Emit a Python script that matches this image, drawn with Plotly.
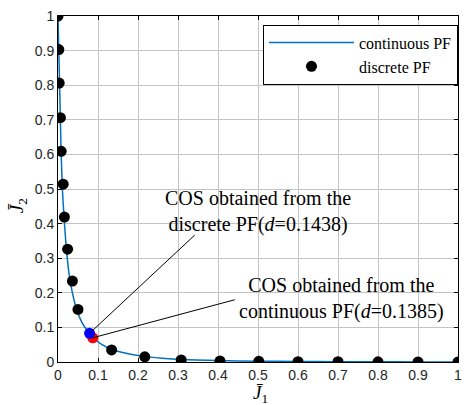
import plotly.graph_objects as go

# continuous Pareto front
cont_j1 = [0, 0.002, 0.004, 0.006, 0.008, 0.011, 0.015, 0.02, 0.027, 0.036, 0.047, 0.06,
           0.075, 0.09, 0.11, 0.135, 0.17, 0.21, 0.26, 0.31, 0.4, 0.5, 0.6, 0.7, 0.8, 0.9, 1.0]
cont_j2 = [1, 0.9, 0.8, 0.7, 0.6, 0.5, 0.42, 0.34, 0.26, 0.2, 0.15, 0.114,
           0.088, 0.068, 0.05, 0.036, 0.025, 0.017, 0.011, 0.007, 0.004, 0.0025, 0.0015, 0.001, 0.0006, 0.0003, 0]

# discrete Pareto front
disc_j1 = [0, 0.002, 0.003, 0.006, 0.008, 0.013, 0.016, 0.024, 0.036, 0.05,
           0.134, 0.217, 0.308, 0.405, 0.502, 0.6, 0.7, 0.8, 0.9, 1.0]
disc_j2 = [1, 0.903, 0.806, 0.706, 0.609, 0.514, 0.419, 0.326, 0.234, 0.152,
           0.035, 0.015, 0.006, 0.003, 0.002, 0.001, 0.001, 0.0005, 0.0003, 0]

# compromise optimal solutions
cos_disc = (0.079, 0.083)
cos_cont = (0.087, 0.070)

# annotation label anchors
lab_disc = (0.5, 0.435)
lab_cont = (0.709, 0.184)
tail_disc = (0.342, 0.367)
tail_cont = (0.442, 0.18)

ticks = [0, 0.1, 0.2, 0.3, 0.4, 0.5, 0.6, 0.7, 0.8, 0.9, 1]
tick_text = ["0", "0.1", "0.2", "0.3", "0.4", "0.5", "0.6", "0.7", "0.8", "0.9", "1"]

fig = go.Figure()
fig.add_trace(go.Scatter(x=cont_j1, y=cont_j2, mode="lines", name="continuous PF",
                         line=dict(color="#0072BD", width=1.5, shape="spline", smoothing=0.6)))
fig.add_trace(go.Scatter(x=disc_j1, y=disc_j2, mode="markers", name="discrete PF",
                         marker=dict(color="black", size=11)))
fig.add_trace(go.Scatter(x=[cos_cont[0]], y=[cos_cont[1]], mode="markers", showlegend=False,
                         marker=dict(color="red", size=11)))
fig.add_trace(go.Scatter(x=[cos_disc[0]], y=[cos_disc[1]], mode="markers", showlegend=False,
                         marker=dict(color="blue", size=11)))

fig.add_shape(type="line", x0=tail_disc[0], y0=tail_disc[1], x1=cos_disc[0], y1=cos_disc[1],
              line=dict(color="black", width=1))
fig.add_shape(type="line", x0=tail_cont[0], y0=tail_cont[1], x1=cos_cont[0], y1=cos_cont[1],
              line=dict(color="black", width=1))

serif = "Liberation Serif, Times New Roman, serif"
fig.add_annotation(x=lab_disc[0], y=lab_disc[1], showarrow=False,
                   text="COS obtained from the<br>discrete PF(<i>d</i>=0.1438)",
                   font=dict(family=serif, size=20, color="black"), align="center")
fig.add_annotation(x=lab_cont[0], y=lab_cont[1], showarrow=False,
                   text="COS obtained from the<br>continuous PF(<i>d</i>=0.1385)",
                   font=dict(family=serif, size=20, color="black"), align="center")

fig.add_annotation(x=0.505, y=-0.092, xref="paper", yref="paper", showarrow=False,
                   text="<i>J\u0304</i><sub>1</sub>", font=dict(family=serif, size=19, color="black"),
                   yanchor="middle")
fig.add_annotation(x=-0.1, y=0.45, xref="paper", yref="paper", showarrow=False, textangle=-90,
                   text="<i>J\u0304</i><sub>2</sub>", font=dict(family=serif, size=19, color="black"),
                   xanchor="center")

axis_common = dict(range=[0, 1], tickvals=ticks, ticktext=tick_text, showgrid=True,
                   gridcolor="#c4c4c4", gridwidth=1, zeroline=False, showline=True,
                   linecolor="black", linewidth=1, mirror="ticks", ticks="inside",
                   ticklen=4, tickcolor="black",
                   tickfont=dict(family="Liberation Sans, Arial, sans-serif", size=14, color="#262626"))

fig.update_layout(
    width=470, height=405,
    margin=dict(l=58, r=8, t=12, b=43),
    plot_bgcolor="white", paper_bgcolor="white",
    xaxis=axis_common,
    yaxis=axis_common,
    legend=dict(x=1, y=0.975, xanchor="right", yanchor="top", bgcolor="white",
                bordercolor="black", borderwidth=1, itemwidth=85,
                font=dict(family=serif, size=16, color="black"),
                tracegroupgap=0),
)
fig.write_html("out.html", config={"displayModeBar": False},
               post_script="document.body.style.margin='0px';document.body.style.overflow='hidden';")
